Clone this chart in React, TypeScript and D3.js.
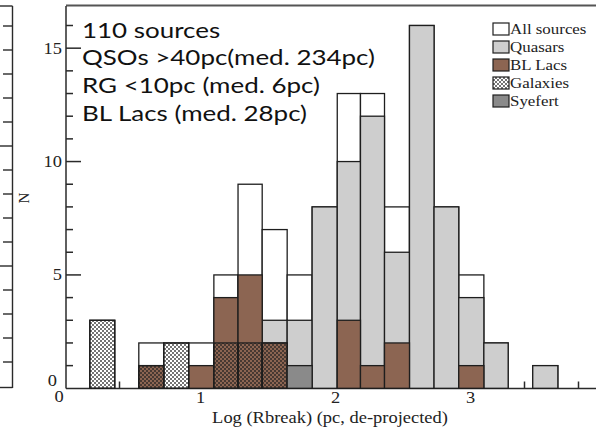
import React from "react";
import * as d3 from "d3";

// Histogram bin edges (log Rbreak, pc de-projected)
const binEdges = [0.18, 0.365, 0.543, 0.728, 0.913, 1.099, 1.278, 1.457, 1.642, 1.827, 2.013, 2.185, 2.363, 2.548, 2.73, 2.913, 3.099, 3.279, 3.461, 3.647];
const allSources = [3, 0, 2, 2, 2, 5, 9, 7, 5, 8, 13, 13, 8, 16, 8, 5, 2, 0, 1];
const quasars = [0, 0, 0, 0, 0, 0, 0, 3, 3, 8, 10, 12, 6, 16, 8, 4, 2, 0, 1];
const blLacs = [0, 0, 1, 0, 1, 4, 5, 2, 0, 0, 3, 1, 2, 0, 0, 1, 0, 0, 0];
const galaxies = [3, 0, 1, 2, 0, 2, 2, 2, 0, 0, 0, 0, 0, 0, 0, 0, 0, 0, 0];
const seyferts = [0, 0, 0, 0, 0, 0, 0, 0, 1, 0, 0, 0, 0, 0, 0, 0, 0, 0, 0];

const xMajorTicks = [0, 1, 2, 3];
const yMajorTicks = [0, 5, 10, 15];
const legendLabels = ["All sources", "Quasars", "BL Lacs", "Galaxies", "Syefert"];
const annotationLines = ["110 sources", "QSOs >40pc(med. 234pc)", "RG <10pc (med. 6pc)", "BL Lacs (med. 28pc)"];

const W = 596;
const H = 428;

const serif = "'Liberation Serif', 'Times New Roman', serif";

function SText(props: {
  x: number;
  y: number;
  sx?: number;
  anchor?: string;
  size?: number;
  family?: string;
  fill?: string;
  children: React.ReactNode;
}) {
  const { x, y, sx = 1.12, anchor = "start", size = 16, family = serif, fill = "#222", children } = props;
  return (
    <text
      transform={`translate(${x}, ${y}) scale(${sx}, 1)`}
      textAnchor={anchor}
      fontFamily={family}
      fontSize={size}
      fill={fill}
    >
      {children}
    </text>
  );
}

export default function App() {
  const x = d3.scaleLinear().domain([0, 4]).range([65.5, 605.5]);
  const y = d3.scaleLinear().domain([0, 16.86]).range([388.3, 6]);
  const yN = d3.scaleLinear().domain([0, 15]).range([386, 26]);

  const fills = ["#ffffff", "#cecece", "#8c6552", "url(#checker)", "#8a8a8a"];
  const series = [allSources, quasars, blLacs, galaxies, seyferts];

  const xMinor = d3.range(0, 4.0001, 0.2).filter((v) => Math.abs(v - Math.round(v)) > 1e-6);
  const yMinor = d3.range(1, 17).filter((v) => v % 5 !== 0);
  const neighborTicks = d3.range(1, 16);
  const neighborMajor = [5, 10];

  const axisColor = "#2a2a2a";

  return (
    <svg width={W} height={H} style={{ position: "absolute", left: 0, top: 0, background: "#fff" }}>
      <defs>
        <pattern id="checker" width={4} height={4} patternUnits="userSpaceOnUse">
          <rect x={0} y={0} width={2} height={2} fill="rgba(30,30,30,0.62)" />
          <rect x={2} y={2} width={2} height={2} fill="rgba(30,30,30,0.62)" />
        </pattern>
      </defs>

      {/* neighbour panel (cropped) */}
      <g stroke={axisColor} strokeWidth={1.4}>
        <line x1={12.5} x2={12.5} y1={6} y2={388} />
        <line x1={0} x2={12.5} y1={6} y2={6} />
        <line x1={0} x2={12.5} y1={387.5} y2={387.5} />
        {neighborTicks.map((t) => (
          <line key={t} x1={neighborMajor.includes(t) ? 0 : 3} x2={12.5} y1={yN(t)} y2={yN(t)} />
        ))}
      </g>

      {/* main frame */}
      <g stroke={axisColor} strokeWidth={1.5}>
        <line x1={66} x2={W} y1={5.5} y2={5.5} stroke="#555" strokeWidth={2} />
        <line x1={66} x2={66} y1={6} y2={388.5} />
        <line x1={66} x2={W} y1={388.5} y2={388.5} />
        {yMajorTicks.filter((t) => t > 0).map((t) => (
          <line key={"ym" + t} x1={66} x2={81} y1={y(t)} y2={y(t)} />
        ))}
        {yMinor.map((t) => (
          <line key={"yn" + t} x1={66} x2={73} y1={y(t)} y2={y(t)} />
        ))}
        {xMajorTicks.filter((t) => t > 0).map((t) => (
          <line key={"xm" + t} x1={x(t)} x2={x(t)} y1={388.5} y2={374} />
        ))}
        {xMinor.map((t) => (
          <line key={"xn" + t.toFixed(1)} x1={x(t)} x2={x(t)} y1={388.5} y2={381.5} />
        ))}
      </g>

      {/* histogram bars */}
      {series.map((vals, si) => (
        <g key={si}>
          {vals.map((v, i) =>
            v > 0 ? (
              <rect
                key={i}
                x={x(binEdges[i])}
                y={y(v)}
                width={x(binEdges[i + 1]) - x(binEdges[i])}
                height={y(0) - y(v)}
                fill={fills[si]}
                stroke="#1e1e1e"
                strokeWidth={1.3}
              />
            ) : null
          )}
        </g>
      ))}

      {/* tick labels */}
      {yMajorTicks.map((t) => (
        <SText key={"yl" + t} x={t === 0 ? 57 : 62} y={t === 0 ? y(t) - 2 : y(t) + 5.5} anchor="end" sx={1.15}>
          {t}
        </SText>
      ))}
      {xMajorTicks.map((t) => (
        <SText key={"xl" + t} x={t === 0 ? x(t) - 6.5 : x(t)} y={t === 0 ? 402 : 403} anchor="middle" sx={1.15}>
          {t}
        </SText>
      ))}
      <SText x={330} y={422.5} anchor="middle" size={16.5} sx={1.12}>
        Log (Rbreak) (pc, de-projected)
      </SText>
      <text
        transform={`translate(29, 198) rotate(-90)`}
        textAnchor="middle"
        fontFamily={serif}
        fontSize={15}
        fill="#222"
      >
        N
      </text>

      {/* legend */}
      {legendLabels.map((lab, i) => (
        <g key={lab} transform={`translate(493, ${29 + i * 18})`}>
          <rect x={0} y={-6} width={16} height={12} fill={fills[i]} stroke="#1e1e1e" strokeWidth={1.2} />
          <SText x={17} y={5} size={15.5} sx={1.09}>
            {lab}
          </SText>
        </g>
      ))}

      {/* annotation */}
      {annotationLines.map((l, i) => (
        <SText key={i} x={82} y={37.5 + i * 27.8} size={22} sx={1.18} family="Lato, sans-serif" fill="#111">
          {l}
        </SText>
      ))}
    </svg>
  );
}
